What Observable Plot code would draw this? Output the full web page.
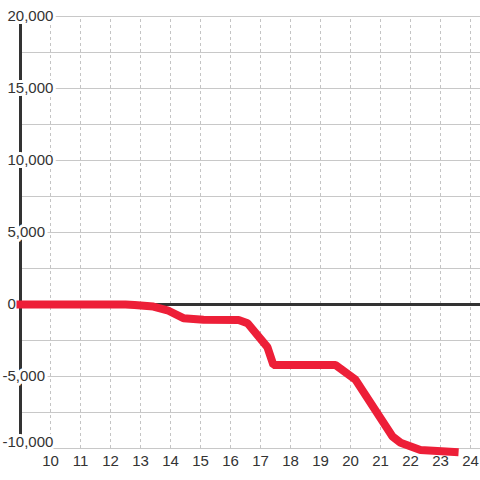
<!DOCTYPE html>
<html>
<head>
<meta charset="utf-8">
<script src="https://cdn.jsdelivr.net/npm/d3@7"></script>
<script src="https://cdn.jsdelivr.net/npm/@observablehq/plot@0.6"></script>
<style>
  html, body { margin: 0; padding: 0; background: #fff; }
</style>
</head>
<body>
<div id="chart"></div>
<script>
const xValues = [9, 12.5, 12.8, 13.43, 13.9, 14.43, 15.1, 16.27, 16.57, 17.23, 17.43, 19.5, 20.17, 21.4, 21.67, 22.33, 23.47];
const yValues = [0, 0, -30, -140, -400, -950, -1060, -1070, -1300, -2960, -4200, -4200, -5230, -9170, -9600, -10100, -10250];
const xTicks = [10, 11, 12, 13, 14, 15, 16, 17, 18, 19, 20, 21, 22, 23, 24];
const xTickLabels = ["10", "11", "12", "13", "14", "15", "16", "17", "18", "19", "20", "21", "22", "23", "24"];
const yTicks = [20000, 15000, 10000, 5000, 0, -5000, -10000];
const yTickLabels = ["20,000", "15,000", "10,000", "5,000", "0", "-5,000", "-10,000"];
const yGrid = [-10000, -7500, -5000, -2500, 2500, 5000, 7500, 10000, 12500, 15000, 17500, 20000];

const series = xValues.map((x, i) => ({x, y: yValues[i]}));
const yLab = yTicks.map((v, i) => ({v, label: yTickLabels[i]}));
const xLab = xTicks.map((v, i) => ({v, label: xTickLabels[i]}));

const xDomain = [9, 24.3333];
const yDomain = [-10000, 20000];

const labelStyle = {x: () => 9, y: "v", text: "label", textAnchor: "start", fontSize: 15, fill: "#333", stroke: "#fff", strokeWidth: 6, paintOrder: "stroke"};

const chart = Plot.plot({
  width: 480,
  height: 480,
  marginLeft: 20,
  marginRight: 0,
  marginTop: 16,
  marginBottom: 32,
  x: {domain: xDomain, axis: null},
  y: {domain: yDomain, axis: null},
  style: {fontFamily: "'Liberation Sans', Arial, sans-serif", background: "#fff"},
  marks: [
    Plot.ruleX(xTicks, {x: d => d, y1: yDomain[0], y2: yDomain[1], stroke: "#c4c4c4", strokeWidth: 1, strokeDasharray: "3,3"}),
    Plot.ruleY(yGrid, {y: d => d, x1: xDomain[0], x2: xDomain[1], stroke: "#c8c8c8", strokeWidth: 1}),
    Plot.ruleX([9], {y1: yDomain[0], y2: yDomain[1], stroke: "#333", strokeWidth: 3}),
    Plot.ruleY([0], {x1: xDomain[0], x2: xDomain[1], stroke: "#333", strokeWidth: 3}),
    Plot.text(yLab.filter(d => d.v >= 0), {...labelStyle, dx: -13}),
    Plot.text(yLab.filter(d => d.v < 0 && d.v !== -10000), {...labelStyle, dx: -18}),
    Plot.text(yLab.filter(d => d.v === -10000), {...labelStyle, dx: -18, dy: -6}),
    Plot.line(series, {x: "x", y: "y", stroke: "#ed1f38", strokeWidth: 8, strokeLinejoin: "miter", strokeLinecap: "square"}),
    Plot.text(xLab, {x: "v", text: "label", frameAnchor: "bottom", dy: 12.5, textAnchor: "middle", lineAnchor: "middle", fontSize: 15, fill: "#333"})
  ]
});
document.getElementById("chart").appendChild(chart);
</script>
</body>
</html>
